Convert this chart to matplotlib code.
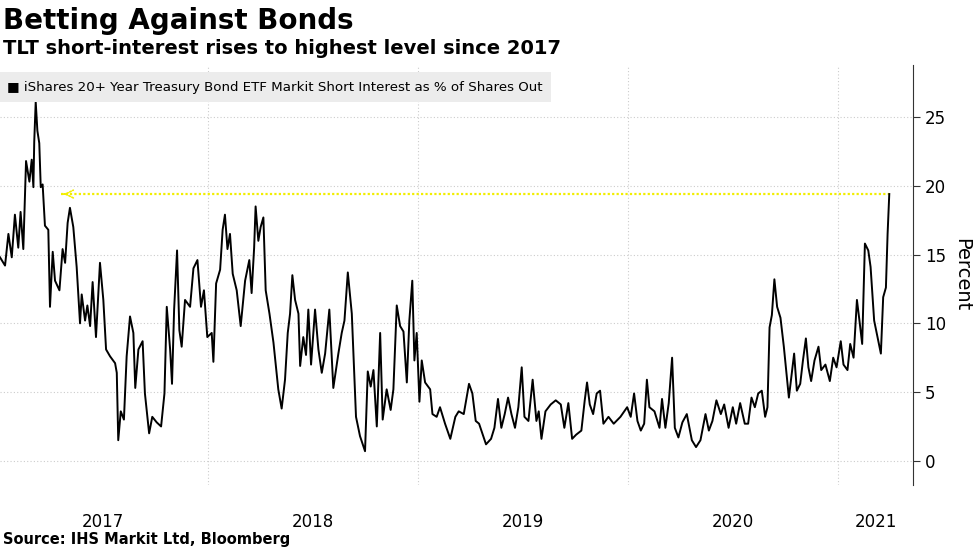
import matplotlib.pyplot as plt

# decimal-year dates and short interest (% of shares out)
dates = [2017.010, 2017.034, 2017.050, 2017.066, 2017.081, 2017.097, 2017.108, 2017.121, 2017.134, 2017.150,
         2017.161, 2017.169, 2017.173, 2017.180, 2017.188, 2017.197, 2017.204, 2017.213, 2017.224, 2017.240,
         2017.248, 2017.261, 2017.272, 2017.293, 2017.308, 2017.320, 2017.332, 2017.343, 2017.359, 2017.375,
         2017.391, 2017.399, 2017.415, 2017.426, 2017.439, 2017.451, 2017.467, 2017.486, 2017.502, 2017.515,
         2017.534, 2017.558, 2017.566, 2017.573, 2017.585, 2017.600, 2017.613, 2017.629, 2017.645, 2017.654,
         2017.669, 2017.689, 2017.700, 2017.720, 2017.735, 2017.756, 2017.777, 2017.793, 2017.804, 2017.820,
         2017.829, 2017.839, 2017.853, 2017.864, 2017.875, 2017.891, 2017.915, 2017.931, 2017.950, 2017.967,
         2017.981, 2017.997, 2018.018, 2018.026, 2018.039, 2018.058, 2018.070, 2018.081, 2018.093, 2018.105,
         2018.118, 2018.137, 2018.156, 2018.177, 2018.197, 2018.208, 2018.220, 2018.227, 2018.240, 2018.251,
         2018.264, 2018.275, 2018.293, 2018.312, 2018.335, 2018.351, 2018.367, 2018.380, 2018.391, 2018.402,
         2018.415, 2018.431, 2018.439, 2018.454, 2018.467, 2018.478, 2018.491, 2018.510, 2018.526, 2018.542,
         2018.558, 2018.578, 2018.597, 2018.621, 2018.637, 2018.650, 2018.666, 2018.685, 2018.705, 2018.724,
         2018.748, 2018.761, 2018.775, 2018.788, 2018.804, 2018.820, 2018.832, 2018.851, 2018.870, 2018.883,
         2018.899, 2018.915, 2018.931, 2018.947, 2018.959, 2018.973, 2018.983, 2018.994, 2019.007, 2019.018,
         2019.034, 2019.058, 2019.069, 2019.089,
         2019.105, 2019.129, 2019.154, 2019.178, 2019.194, 2019.218, 2019.243, 2019.259, 2019.275, 2019.291,
         2019.324, 2019.348, 2019.364, 2019.381, 2019.397, 2019.413, 2019.429, 2019.445, 2019.462, 2019.478,
         2019.494, 2019.507, 2019.526, 2019.546, 2019.564, 2019.575, 2019.588, 2019.607, 2019.632, 2019.656,
         2019.680, 2019.697, 2019.716, 2019.734, 2019.753, 2019.778, 2019.794, 2019.805, 2019.818, 2019.834,
         2019.851, 2019.867, 2019.883, 2019.907, 2019.932, 2019.964, 2019.996, 2020.013, 2020.029, 2020.045,
         2020.061, 2020.077, 2020.090, 2020.102, 2020.126, 2020.150, 2020.162, 2020.178, 2020.194, 2020.210,
         2020.223, 2020.240, 2020.259, 2020.280, 2020.304, 2020.324, 2020.345, 2020.369, 2020.385, 2020.402,
         2020.421, 2020.442, 2020.458, 2020.479, 2020.499, 2020.515, 2020.534, 2020.556, 2020.572, 2020.588,
         2020.604, 2020.620, 2020.637, 2020.653, 2020.664, 2020.674, 2020.685, 2020.697, 2020.710, 2020.726,
         2020.742, 2020.755, 2020.766, 2020.779, 2020.791, 2020.804, 2020.820, 2020.833, 2020.847, 2020.859,
         2020.872, 2020.888, 2020.907, 2020.920, 2020.940, 2020.961, 2020.977, 2020.993, 2021.013, 2021.026,
         2021.045, 2021.058, 2021.074, 2021.090, 2021.102, 2021.115, 2021.128, 2021.144, 2021.155, 2021.172,
         2021.188, 2021.204, 2021.215, 2021.228, 2021.236, 2021.244]
values = [14.8, 14.2, 16.5, 14.8, 17.9, 15.5, 18.1, 15.4, 21.8, 20.3,
          21.9, 19.9, 23.2, 26.1, 24.0, 23.1, 19.9, 20.1, 17.1, 16.8,
          11.2, 15.2, 13.1, 12.4, 15.4, 14.4, 17.3, 18.4, 17.0, 14.1,
          10.0, 12.1, 10.2, 11.3, 9.8, 13.0, 9.0, 14.4, 11.7, 8.1,
          7.6, 7.1, 6.4, 1.5, 3.6, 3.0, 7.6, 10.5, 9.3, 5.3,
          8.1, 8.7, 4.9, 2.0, 3.2, 2.8, 2.5, 4.9, 11.2, 8.1,
          5.6, 11.0, 15.3, 9.5, 8.3, 11.7, 11.2, 14.0, 14.6, 11.2,
          12.4, 9.0, 9.3, 7.2, 12.9, 13.9, 16.8, 17.9, 15.4, 16.5,
          13.6, 12.4, 9.8, 13.1, 14.6, 12.2, 15.5, 18.5, 16.0, 17.0,
          17.7, 12.4, 10.7, 8.6, 5.2, 3.8, 5.9, 9.3, 10.7, 13.5,
          11.7, 10.7, 6.9, 9.0, 7.7, 11.0, 7.0, 11.0, 8.1, 6.4,
          7.8, 11.0, 5.3, 7.8, 9.3, 10.2, 13.7, 10.7, 3.2, 1.8,
          0.7, 6.5, 5.4, 6.6, 2.5, 9.3, 3.0, 5.2, 3.7, 5.2,
          11.3, 9.8, 9.4, 5.7, 10.2, 13.1, 7.3, 9.3, 4.3, 7.3,
          5.7, 5.2, 3.4, 3.2,
          3.9, 2.7, 1.6, 3.2, 3.6, 3.4, 5.6, 4.9, 2.9, 2.7,
          1.2, 1.6, 2.4, 4.5, 2.4, 3.4, 4.6, 3.4, 2.4, 3.9,
          6.8, 3.2, 2.9, 5.9, 2.9, 3.6, 1.6, 3.6, 4.1, 4.4,
          4.1, 2.4, 4.2, 1.6, 1.9, 2.2, 4.4, 5.7, 4.1, 3.4,
          4.9, 5.1, 2.7, 3.2, 2.7, 3.2, 3.9, 3.2, 4.9, 2.9,
          2.2, 2.7, 5.9, 3.9, 3.6, 2.4, 4.5, 2.4, 4.2, 7.5,
          2.4, 1.7, 2.8, 3.4, 1.5, 1.0, 1.5, 3.4, 2.2, 2.9,
          4.4, 3.4, 4.1, 2.4, 3.9, 2.7, 4.2, 2.7, 2.7, 4.6,
          3.9, 4.9, 5.1, 3.2, 3.9, 9.7, 10.6, 13.2, 11.2, 10.4,
          8.3, 6.3, 4.6, 6.3, 7.8, 5.1, 5.6, 7.3, 8.9, 6.8,
          5.8, 7.3, 8.3, 6.6, 7.0, 5.8, 7.5, 6.8, 8.7, 7.0,
          6.6, 8.5, 7.5, 11.7, 10.2, 8.5, 15.8, 15.3, 14.1, 10.2,
          9.0, 7.8, 11.9, 12.6, 16.5, 19.4]

year_starts = [2018, 2019, 2020, 2021]
label_pos = [2017.5, 2018.5, 2019.5, 2020.5, 2021.18]
year_labels = ['2017', '2018', '2019', '2020', '2021']
yticks = [0, 5, 10, 15, 20, 25]
latest = values[-1]
arrow_start = 2017.30

fig = plt.figure(figsize=(9.77, 5.49), dpi=100)
ax = fig.add_axes([0.0, 0.117, 0.9345, 0.765])

ax.plot(dates, values, color='black', linewidth=1.4, zorder=3)

# yellow dotted reference line back to the 2017 level
ax.plot([arrow_start, dates[-1]], [latest, latest], color='#f2ee00', linestyle=(0, (1, 1)),
        linewidth=1.6, zorder=2)
ax.annotate('', xy=(arrow_start, latest), xytext=(arrow_start + 0.03, latest),
            arrowprops=dict(arrowstyle='->', color='#f2ee00', linestyle=(0, (1, 1)),
                            linewidth=1.2, mutation_scale=14), zorder=2)

ax.set_xlim(2017.01, 2021.357)
ax.set_ylim(-1.74, 28.8)

ax.yaxis.tick_right()
ax.yaxis.set_label_position('right')
ax.set_yticks(yticks)
ax.set_ylabel('Percent', fontsize=14, rotation=270, labelpad=18)
ax.tick_params(axis='y', labelsize=12, length=5, direction='out', colors='#333333', labelcolor='black')

ax.set_xticks(year_starts)
ax.set_xticklabels([])
ax.set_xticks(label_pos, minor=True)
ax.set_xticklabels(year_labels, minor=True, fontsize=12)
ax.tick_params(axis='x', which='both', length=0, pad=20)

ax.grid(True, which='major', color='#cccccc', linestyle=(0, (1, 2)), linewidth=0.8)
for s in ['top', 'left', 'bottom']:
    ax.spines[s].set_visible(False)
ax.spines['right'].set_color('#333333')

ax.text(0.008, 0.962, '\u25a0 iShares 20+ Year Treasury Bond ETF Markit Short Interest as % of Shares Out',
        transform=ax.transAxes, fontsize=9.6, va='top', ha='left',
        bbox=dict(facecolor='#ececec', edgecolor='none', pad=6), zorder=5)

fig.text(0.003, 0.962, 'Betting Against Bonds', fontsize=20, fontweight='bold', va='center')
fig.text(0.003, 0.912, 'TLT short-interest rises to highest level since 2017', fontsize=14,
         fontweight='bold', va='center')
fig.text(0.003, 0.018, 'Source: IHS Markit Ltd, Bloomberg', fontsize=10.5, fontweight='bold', va='center')

fig.savefig('out.png', dpi=100)
